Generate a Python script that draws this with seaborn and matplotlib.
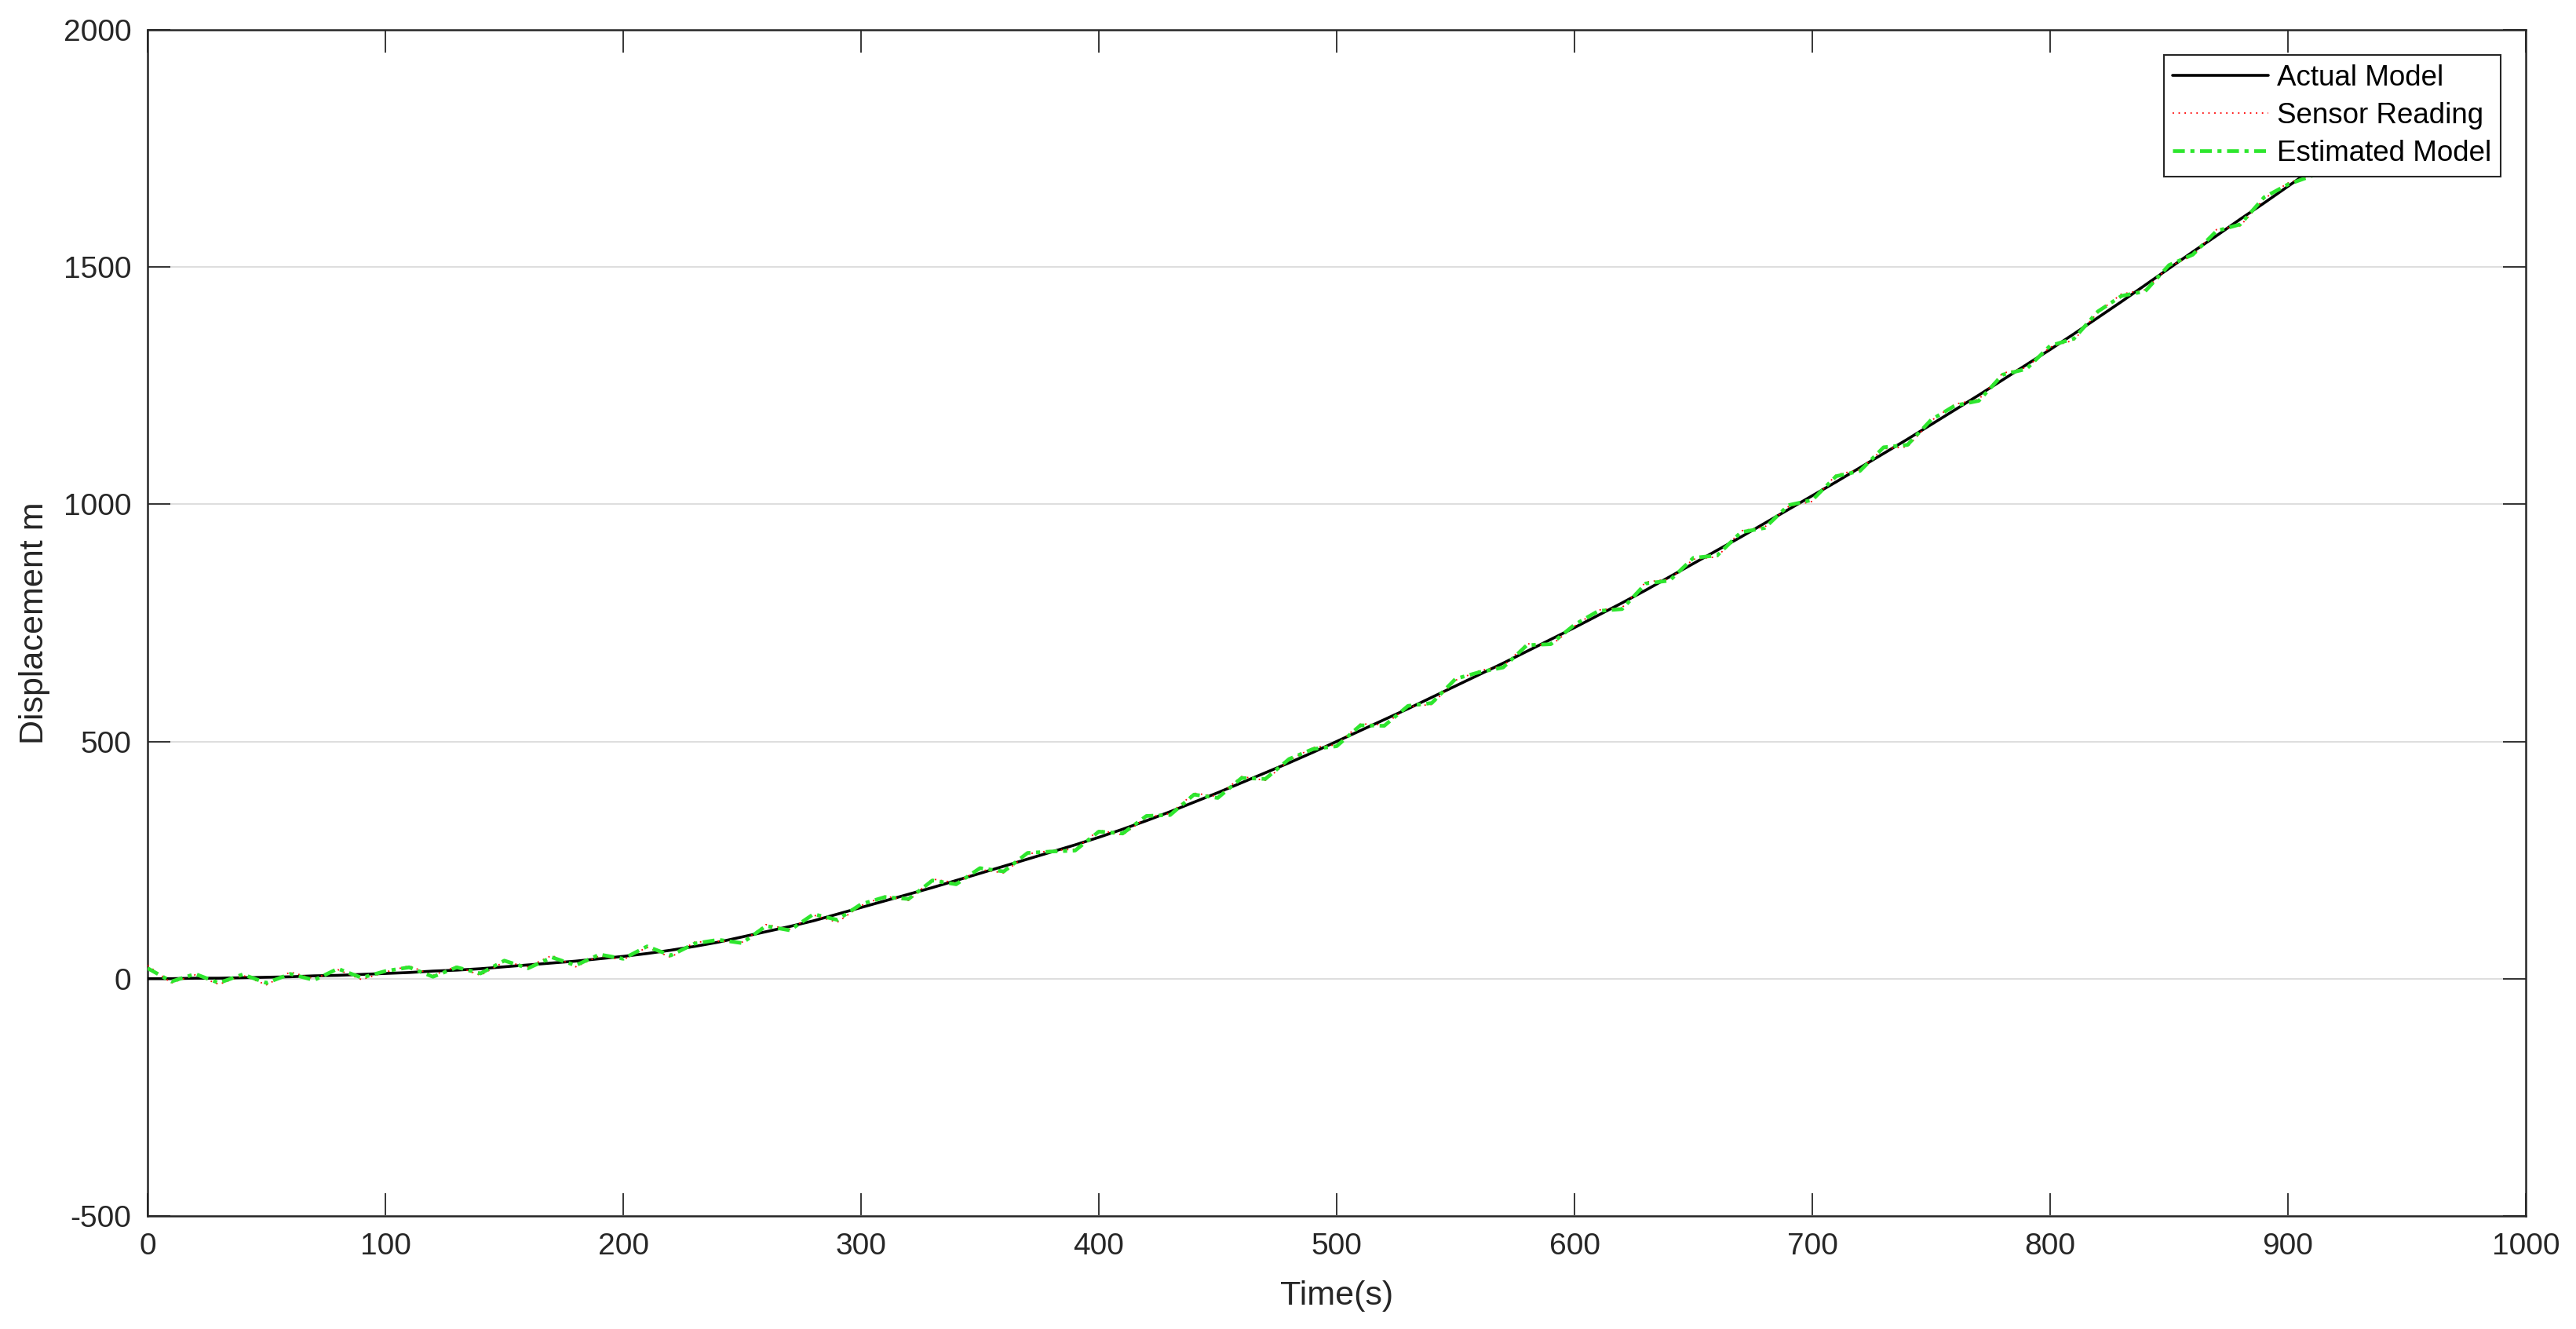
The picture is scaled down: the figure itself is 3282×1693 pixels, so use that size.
import numpy as np
import matplotlib
matplotlib.use("Agg")
import matplotlib.pyplot as plt
import seaborn as sns

# -------------------------
# Data (10 s sampling)
# -------------------------
time_s = np.arange(0, 951, 10)

actual_model = [
    0, 0, 1, 1, 2, 3, 4, 6, 7, 9,
    11, 13, 16, 18, 21, 25, 29, 33, 37, 42,
    47, 53, 60, 68, 77, 88, 99, 110, 122, 136,
    150, 164, 178, 192, 207, 222, 237, 252, 267, 282,
    298, 315, 333, 352, 372, 392, 413, 434, 455, 477,
    500, 523, 546, 569, 593, 617, 641, 665, 690, 715,
    740, 766, 792, 819, 847, 875, 903, 931, 960, 989,
    1018, 1047, 1077, 1107, 1137, 1168, 1199, 1230, 1262, 1294,
    1326, 1359, 1393, 1427, 1462, 1497, 1532, 1566, 1601, 1635,
    1670, 1705, 1741, 1777, 1813, 1850,
]

# deviation of the noisy sensor reading from the actual model
sensor_noise = [
    28, -9, 7, -13, 5, -16, 10, -6, 12, -11, 3, 14,
    -9, 8, -14, 11, -4, 16, -12, 6, -7, 13, -15, 9,
    2, -11, 15, -6, 12, -17, 4, 10, -13, 18, -5, 8,
    -14, 11, 3, -9, 15, -12, 7, -4, 19, -8, 13, -16,
    5, 10, -7, 14, -11, 4, -15, 12, 8, -6, 16, -13,
    3, 11, -10, 17, -5, 9, -14, 13, -8, 6, -12, 15,
    -4, 10, -16, 8, 12, -9, 14, -6, 5, -13, 11, 16,
    -10, 4, -8, 13, -14, 9, 7, -11, 15, -6, 10, -12,
]

# deviation of the filter estimate from the actual model
estimate_noise = [
    22, -6, 9, -10, 7, -12, 6, -9, 14, -7, 5, 11,
    -12, 6, -10, 13, -7, 12, -9, 9, -5, 15, -11, 6,
    5, -13, 12, -8, 14, -12, 7, 8, -10, 15, -8, 11,
    -11, 13, 1, -12, 12, -9, 10, -7, 16, -11, 10, -13,
    8, 7, -10, 11, -13, 6, -12, 15, 5, -9, 13, -10,
    6, 9, -13, 14, -8, 12, -11, 10, -10, 9, -9, 12,
    -7, 13, -12, 10, 9, -12, 11, -9, 8, -10, 13, 12,
    -13, 7, -6, 10, -11, 12, 4, -13, 12, -9, 13, -10,
]

actual = np.array(actual_model, dtype=float)
sensor_reading = actual + np.array(sensor_noise)
estimated_model = actual + np.array(estimate_noise)

x_ticks = list(range(0, 1001, 100))
y_ticks = [-500, 0, 500, 1000, 1500, 2000]

# -------------------------
# Styling (MATLAB-like look)
# -------------------------
sns.set_theme(style="white")
plt.rcParams["font.family"] = ["Liberation Sans", "DejaVu Sans"]
plt.rcParams["axes.unicode_minus"] = False
axis_color = "#262626"

fig = plt.figure(figsize=(32.82, 16.93), dpi=100)
ax = fig.add_axes([0.0573, 0.0851, 0.9232, 0.8925])

sns.lineplot(x=time_s, y=actual, ax=ax, color="black", linewidth=2.6,
             linestyle="-", label="Actual Model", zorder=3)
sns.lineplot(x=time_s, y=sensor_reading, ax=ax, color="red", linewidth=1.3,
             linestyle=(0, (1, 3.2)), label="Sensor Reading", zorder=4)
sns.lineplot(x=time_s, y=estimated_model, ax=ax, color="#2ee62e", linewidth=3.4,
             linestyle=(0, (3.2, 1.5, 1.1, 1.5)), label="Estimated Model", zorder=5)

ax.set_xlim(0, 1000)
ax.set_ylim(-500, 2000)
ax.set_xticks(x_ticks)
ax.set_yticks(y_ticks)

ax.yaxis.grid(True, color="#dedede", linewidth=1.5)
ax.xaxis.grid(False)
ax.set_axisbelow(True)

for side in ["left", "right", "top", "bottom"]:
    ax.spines[side].set_visible(True)
    ax.spines[side].set_color(axis_color)
    ax.spines[side].set_linewidth(1.8)

ax.tick_params(axis="both", which="major", direction="in", length=21, width=1.3,
               color=axis_color, labelcolor=axis_color, labelsize=28, pad=15,
               top=True, right=True, bottom=True, left=True)

ax.set_xlabel("Time(s)", fontsize=31, color=axis_color)
ax.set_ylabel("Displacement m", fontsize=31, color=axis_color)
ax.xaxis.set_label_coords(0.5, -0.054)
ax.yaxis.set_label_coords(-0.041, 0.5)

leg = ax.legend(loc="upper right", fontsize=26.5, frameon=True, fancybox=False,
                framealpha=1, edgecolor=axis_color, handlelength=3.3,
                handletextpad=0.3, labelspacing=0.36, borderpad=0.32,
                borderaxespad=0.87)
leg.get_frame().set_linewidth(1.5)
for text in leg.get_texts():
    text.set_color("black")

fig.savefig("out.png", dpi=100)
